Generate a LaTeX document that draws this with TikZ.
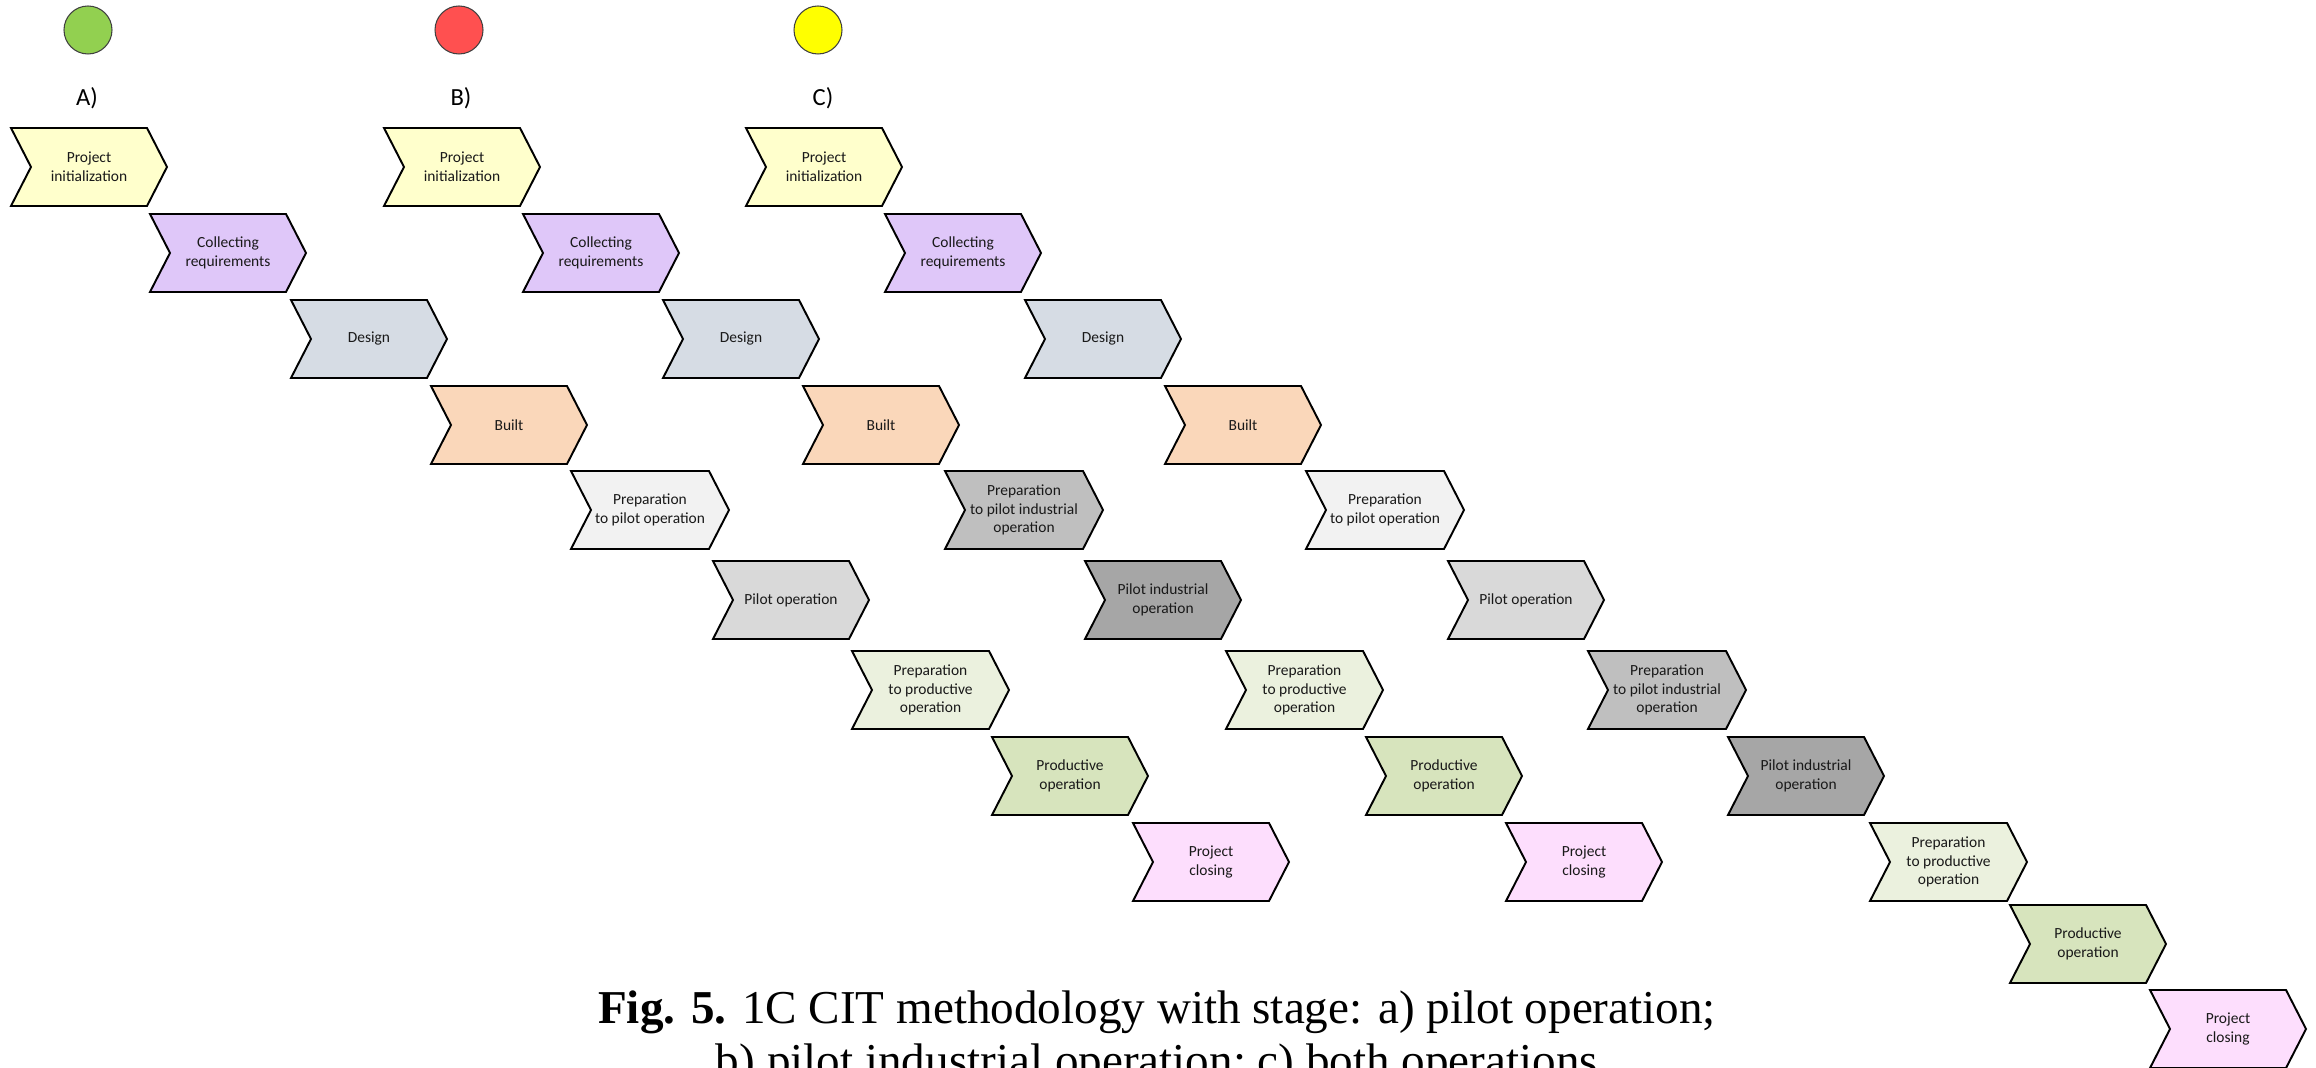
\documentclass[tikz,border=0pt]{standalone}
\usepackage{fontspec}
\setmainfont{Liberation Serif}
\newfontfamily\carlito{Carlito}

% stage fills
\definecolor{cInit}{HTML}{FFFFCC}
\definecolor{cReq}{HTML}{DFC7F9}
\definecolor{cDesign}{HTML}{D6DCE4}
\definecolor{cBuilt}{HTML}{FAD7BA}
\definecolor{cPrepPilot}{HTML}{F2F2F2}
\definecolor{cPilot}{HTML}{D9D9D9}
\definecolor{cPrepInd}{HTML}{BFBFBF}
\definecolor{cInd}{HTML}{A6A6A6}
\definecolor{cPrepProd}{HTML}{EBF1DE}
\definecolor{cProd}{HTML}{D7E4BD}
\definecolor{cClose}{HTML}{FDDEFD}
% status lamps
\definecolor{lampGreen}{HTML}{92D050}
\definecolor{lampRed}{HTML}{FF5050}
\definecolor{lampYellow}{HTML}{FFFF00}

\tikzset{
  stageline/.style={draw=black, line width=0.55pt, line join=miter},
  stagetext/.style={align=center, inner sep=0pt, text=black!90,
    font=\carlito\fontsize{4.4}{5.3}\selectfont},
  lamp/.style={circle, draw=black!75, line width=0.3pt, minimum size=48*0.01cm, inner sep=0pt},
  variant/.style={anchor=base, inner sep=0pt, font=\carlito\fontsize{7}{8}\selectfont},
  caption/.style={anchor=base, inner sep=0pt, font=\fontsize{13.4}{15.5}\selectfont}
}

% chevron stage: [width] name, left, top, fill, text
\newcommand\stagebox[6][156]{%
  \filldraw[stageline, fill=#5] (#3,#4) -- ++(#1-20,0) -- ++(20,39) -- ++(-20,39)
    -- ++(-#1+20,0) -- ++(20,-39) -- cycle;
  \node[stagetext] (#2) at (#3+#1/2,#4+39) {#6};
}

\begin{document}
\begin{tikzpicture}[x=0.01cm, y=-0.01cm]
\useasboundingbox (0,0) rectangle (2316,1068);
\clip (0,0) rectangle (2316,1068);

% lamps and variant labels
\node[lamp, fill=lampGreen]  (lampA) at (88,30) {};
\node[lamp, fill=lampRed]    (lampB) at (459,30) {};
\node[lamp, fill=lampYellow] (lampC) at (818,30) {};
\node[variant] (labA) at (87,106) {A)};
\node[variant] (labB) at (461,106) {B)};
\node[variant] (labC) at (823,106) {C)};

% variant A: pilot operation
\stagebox{a1}{11}{128}{cInit}{Project\\initialization}
\stagebox{a2}{150}{214}{cReq}{Collecting\\requirements}
\stagebox{a3}{291}{300}{cDesign}{Design}
\stagebox{a4}{431}{386}{cBuilt}{Built}
\stagebox[158]{a5}{571}{471}{cPrepPilot}{Preparation\\to pilot operation}
\stagebox{a6}{713}{561}{cPilot}{Pilot operation}
\stagebox[157]{a7}{852}{651}{cPrepProd}{Preparation\\to productive\\operation}
\stagebox{a8}{992}{737}{cProd}{Productive\\operation}
\stagebox{a9}{1133}{823}{cClose}{Project\\closing}

% variant B: pilot industrial operation
\stagebox{b1}{384}{128}{cInit}{Project\\initialization}
\stagebox{b2}{523}{214}{cReq}{Collecting\\requirements}
\stagebox{b3}{663}{300}{cDesign}{Design}
\stagebox{b4}{803}{386}{cBuilt}{Built}
\stagebox[158]{b5}{945}{471}{cPrepInd}{Preparation\\to pilot industrial\\operation}
\stagebox{b6}{1085}{561}{cInd}{Pilot industrial\\operation}
\stagebox[157]{b7}{1226}{651}{cPrepProd}{Preparation\\to productive\\operation}
\stagebox{b8}{1366}{737}{cProd}{Productive\\operation}
\stagebox{b9}{1506}{823}{cClose}{Project\\closing}

% variant C: both operations
\stagebox{c1}{746}{128}{cInit}{Project\\initialization}
\stagebox{c2}{885}{214}{cReq}{Collecting\\requirements}
\stagebox{c3}{1025}{300}{cDesign}{Design}
\stagebox{c4}{1165}{386}{cBuilt}{Built}
\stagebox[158]{c5}{1306}{471}{cPrepPilot}{Preparation\\to pilot operation}
\stagebox{c6}{1448}{561}{cPilot}{Pilot operation}
\stagebox[158]{c7}{1588}{651}{cPrepInd}{Preparation\\to pilot industrial\\operation}
\stagebox{c8}{1728}{737}{cInd}{Pilot industrial\\operation}
\stagebox[157]{c9}{1870}{823}{cPrepProd}{Preparation\\to productive\\operation}
\stagebox{c10}{2010}{905}{cProd}{Productive\\operation}
\stagebox{c11}{2150}{990}{cClose}{Project\\closing}

% caption
\node[caption] (cap1) at (1157,1023) {\textbf{Fig. 5.} 1C CIT methodology with stage: a) pilot operation;};
\node[caption] (cap2) at (1157,1076) {b) pilot industrial operation; c) both operations};
\end{tikzpicture}
\end{document}
